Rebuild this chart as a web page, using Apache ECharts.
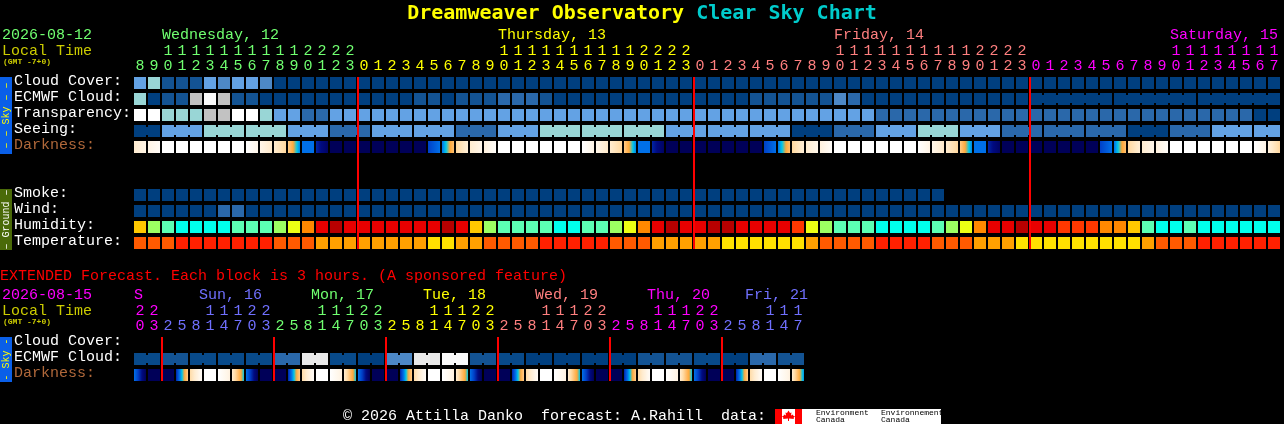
<!DOCTYPE html>
<html>
<head>
<meta charset="utf-8">
<style>html,body{margin:0;padding:0;background:#000;overflow:hidden}#c{width:1284px;height:424px}</style>
<script src="https://cdn.jsdelivr.net/npm/echarts@6/dist/echarts.min.js"></script>
</head>
<body>
<div id="c"></div>
<script>
// ---- Data ----
const mainHours = [8,9,10,11,12,13,14,15,16,17,18,19,20,21,22,23,
  0,1,2,3,4,5,6,7,8,9,10,11,12,13,14,15,16,17,18,19,20,21,22,23,
  0,1,2,3,4,5,6,7,8,9,10,11,12,13,14,15,16,17,18,19,20,21,22,23,
  0,1,2,3,4,5,6,7,8,9,10,11,12,13,14,15,16,17];
const mainDayOfCell = [0,0,0,0,0,0,0,0,0,0,0,0,0,0,0,0,
  1,1,1,1,1,1,1,1,1,1,1,1,1,1,1,1,1,1,1,1,1,1,1,1,
  2,2,2,2,2,2,2,2,2,2,2,2,2,2,2,2,2,2,2,2,2,2,2,2,
  3,3,3,3,3,3,3,3,3,3,3,3,3,3,3,3,3,3];
const mainDayNames = ['Wednesday, 12','Thursday, 13','Friday, 14','Saturday, 15'];
const mainDayLabelCells = [2,26,50,74];
const mainDayColors = ['#70ff70','#ffff00','#ff7f7f','#ff00ff'];
const mainMidnights = [16,40,64];

const mainRows = ['Cloud Cover:','ECMWF Cloud:','Transparency:','Seeing:','Darkness:','','','Smoke:','Wind:','Humidity:','Temperature:'];

const cloudCover = [4,5,1,1,1,4,3,4,4,3,
  0,0,0,0,0,0,0,0,0,0, 0,0,0,0,0,0,0,0,0,0, 0,0,0,0,0,0,0,0,0,0,
  0,0,0,0,0,0,0,0,0,0, 0,0,0,0,0,0,0,0,0,0, 0,0,0,0,0,0,0,0,0,0,
  0,0,0,0,0,0,0,0,0,0, 0,0];
const ecmwfCloud = [5,0,1,1,6,8,6,1,1,0,
  0,0,0,0,0,0,0,0,0,0, 1,1,0,1,1,1,2,2,2,1, 0,0,0,0,0,0,0,0,0,0,
  0,0,0,0,1,1,1,1,1,1, 3,2,0,0,0,0,0,0,0,0, 0,0,0,0,0,0,0,0,0,0, 0,0,0,0,0,0,0,0,0,0, 0,0];
const ecmwfSpans = [1,1,1,1,1,1,1,1,1,1,1,1,1,1,1,1,1,1,1,1,1,1,1,1,1,1,1,1,1,1,1,1,
  1,1,1,1,1,1,1,1,1,1,1,1,1,1,1,1,1,1,1,1,1,1,1,1,1,1,1,1,1,1,1,1,6,6,6];
const transparency = [9,9,5,5,5,6,6,9,9,5,
  4,4,2,2,4,4,4,4,4,4, 4,4,4,4,4,4,4,4,4,4, 4,4,4,4,4,4,4,4,4,4,
  4,4,4,4,4,4,4,4,4,4, 4,4,4,2,2,2,2,2,2,2, 2,2,2,2,2,2,2,2,2,2, 2,2,2,2,2,2,2,2,2,2, 0,0];
const seeingBlocks = [0,4,5,5,4,2,4,4,2,4,5,5,5,4,4,4,0,2,4,5,4,2,2,2,0,2,4,4];
const seeingSpans  = [2,3,3,3,3,3,3,3,3,3,3,3,3,3,3,3,3,3,3,3,3,3,3,3,3,3,3,2];
const darknessStart = [2,1.2,0,0,0,0,0,0,0,1,2,3.6,7,8.5,10,10,
  10,10,10,10,10,8,7,3.2,2,1.5,0,0,0,0,0,0,0,1,2,3.6,7,8.5,10,10,
  10,10,10,10,10,8,7,3.2,2,1.5,0,0,0,0,0,0,0,1,2,3.6,7,8.5,10,10,
  10,10,10,10,10,8,7,3.2,2,1.5,0,0,0,0,0,0,0,1.5];
const darknessEnd = [1.2,0.4,0,0,0,0,0,0,1,2.2,3.2,6.8,7,9.7,10,10,
  10,10,10,10,10,7,4,1.8,1,0.3,0,0,0,0,0,0,1.2,2.2,3.2,6.8,7,9.7,10,10,
  10,10,10,10,10,7,4,1.8,1,0.3,0,0,0,0,0,0,1.2,2.2,3.2,6.8,7,9.7,10,10,
  10,10,10,10,10,7,4,1.8,1,0.3,0,0,0,0,0,0,1.2,3.2];
const smoke = [0,0,0,0,0,0,0,0,0,0, 0,0,0,0,0,0,0,0,0,0, 0,0,0,0,0,0,0,0,0,0,
  0,0,0,0,0,0,0,0,0,0, 0,0,0,0,0,0,0,0,0,0, 0,0,0,0,0,0,0,0];
const wind = [0,0,0,0,0,0,2,2,0,0, 0,0,0,0,0,0,0,0,0,0, 0,0,0,0,0,0,0,0,0,0,
  0,0,0,0,0,0,0,0,0,0, 0,0,0,0,0,0,0,0,0,0, 0,0,0,0,0,0,0,0,0,0,
  0,0,0,0,0,0,0,0,0,0, 0,0,0,0,0,0,0,0,0,0, 0,0];
const humidity = [4,2,1,0,0,0,0,1,1,1, 2,3,5,7,8,7,7,7,7,7, 7,7,8,7,4,2,1,1,1,1,
  0,0,1,1,2,3,5,7,8,7, 7,8,8,7,7,7,7,6,3,2, 1,1,1,0,0,0,0,1,2,3,
  5,7,7,8,7,7,6,6,6,5, 5,4,1,0,0,1,0,0,0,0, 0,0];
const temperature = [1,1,1,0,0,0,0,0,0,0, 1,1,1,2,2,2,2,2,2,2, 2,3,3,2,2,1,1,1,1,0,
  0,0,0,0,1,1,1,2,2,2, 2,2,3,3,3,3,3,3,2,1, 1,1,1,0,0,0,0,1,1,1,
  2,2,2,3,3,3,3,3,3,3, 3,3,2,1,1,1,0,0,0,0, 0,0];

const extHours = [20,23,
  2,5,8,11,14,17,20,23, 2,5,8,11,14,17,20,23, 2,5,8,11,14,17,20,23,
  2,5,8,11,14,17,20,23, 2,5,8,11,14,17,20,23, 2,5,8,11,14,17];
const extDayOfCell = [0,0, 1,1,1,1,1,1,1,1, 2,2,2,2,2,2,2,2, 3,3,3,3,3,3,3,3,
  4,4,4,4,4,4,4,4, 5,5,5,5,5,5,5,5, 6,6,6,6,6,6];
const extDayNames = ['S','Sun, 16','Mon, 17','Tue, 18','Wed, 19','Thu, 20','Fri, 21'];
const extDayLabelCells = [0,5,13,21,29,37,44];
const extDayColors = ['#ff00ff','#7070ff','#70ff70','#ffff00','#ff7f7f','#ff00ff','#7070ff'];
const extMidnights = [2,10,18,26,34,42];
const extRows = ['Cloud Cover:','ECMWF Cloud:','Darkness:'];
const extEcmwfBlocks = [0.5,1,0.5,0.5,0.5,2,7,0.5,0,3,7,8,1,0.5,0,0,0,0,1,1,0.5,0,2,1];
const extEcmwfSpans  = [2,2,2,2,2,2,2,2,2,2,2,2,2,2,2,2,2,2,2,2,2,2,2,2];
const extDarkStart = [7,10,10,8.5,3,0,0,2, 7,10,10,8.5,3,0,0,2, 7,10,10,8.5,3,0,0,2,
  7,10,10,8.5,3,0,0,2, 7,10,10,8.5,3,0,0,2, 7,10,10,8.5,3,0,0,2];
const extDarkEnd = [10,10,10,3.5,0.4,0,1.4,6, 10,10,10,3.5,0.4,0,1.4,6, 10,10,10,3.5,0.4,0,1.4,6,
  10,10,10,3.5,0.4,0,1.4,6, 10,10,10,3.5,0.4,0,1.4,6, 10,10,10,3.5,0.4,0,1.4,6.6];

// ---- Styling ----
const cloudColor = {0:'#003f7f',0.5:'#084a8a',1:'#135393',2:'#2a68aa',3:'#4d88c6',4:'#63a2e4',5:'#99d6d6',6:'#c2c2c2',7:'#e9e9e9',8:'#fafafa',9:'#ffffff'};
const humidityColor = ['#00ffec','#5cffb4','#9cff62','#ecff14','#ffc800','#ff8800','#ff3800','#e80000','#b80000'];
const temperatureColor = ['#ff2000','#ff5a00','#ffa000','#ffe000'];
const darkStops = ['#ffffff','#fff6ea','#ffecd0','#ffdca8','#ffc070','#ffa838','#00c8e8','#0070e8','#0040c8','#000a80','#000058'];
const FONT = '"Liberation Mono", monospace';

function hex(c){return [1,3,5].map(i=>parseInt(c.substr(i,2),16));}
function darkAt(t){
  const i=Math.min(Math.floor(t),darkStops.length-2),f=t-i,a=hex(darkStops[i]),b=hex(darkStops[i+1]);
  return 'rgb('+a.map((v,k)=>Math.round(v+(b[k]-v)*f)).join(',')+')';
}
function darkFill(t0,t1){
  if(t0===t1) return darkAt(t0);
  const stops=[];const n=12;
  for(let k=0;k<=n;k++) stops.push({offset:k/n,color:darkAt(t0+(t1-t0)*k/n)});
  return new echarts.graphic.LinearGradient(0,0,1,0,stops);
}
function expand(blocks,spans){
  const out=[];let c=0;
  blocks.forEach((v,b)=>{for(let k=0;k<spans[b];k++){out.push([c,v,k<spans[b]-1?1:0]);c++;}});
  return out;
}
function cellSeries(name,grid,row,cells,fillOf){
  return {type:'custom',name,xAxisIndex:grid,yAxisIndex:grid,clip:false,silent:true,z:2,
    data:cells.map(c=>[c[0],row,c[1],c[2]||0,c[3]||0]),
    encode:{x:0,y:1},
    renderItem(p,api){
      const c=api.coord([api.value(0),api.value(1)]),s=api.size([1,1]);
      const w=s[0]-2,h=s[1]-4,x=c[0]-w/2,y=c[1]-h/2;
      const fill=fillOf(api.value(2),api.value(4));
      const kids=[{type:'rect',shape:{x,y,width:w,height:h},style:{fill}}];
      if(api.value(3)) kids.push({type:'rect',shape:{x:x+w,y:y+2,width:2,height:h-4},style:{fill}});
      return {type:'group',children:kids};
    }};
}
function plain(values){return values.map((v,i)=>[i,v]);}
function boundarySeries(grid,cells,lastRow){
  return {type:'custom',xAxisIndex:grid,yAxisIndex:grid,clip:false,silent:true,z:5,
    data:cells.map(c=>[c,0]),encode:{x:0,y:1},
    renderItem(p,api){
      const c=api.coord([api.value(0),0]),e=api.coord([api.value(0),lastRow]),s=api.size([1,1]);
      const x=c[0]-s[0]/2+1,top=c[1]-s[1]/2+2,bot=e[1]+s[1]/2-2;
      return {type:'rect',shape:{x:x-1,y:top,width:2,height:bot-top},style:{fill:'#ff0000'}};
    }};
}
function dayLabelSeries(grid,cells,names,colors,rise,shift){
  return {type:'custom',xAxisIndex:grid,yAxisIndex:grid,clip:false,silent:true,z:3,
    data:cells.map(c=>[c,0]),encode:{x:0,y:1},
    renderItem(p,api){
      const c=api.coord([api.value(0),0]),s=api.size([1,1]);
      const i=p.dataIndex,dx=i===0||!shift?-6:shift;
      return {type:'text',style:{x:c[0]+dx,y:c[1]-s[1]/2-rise,text:names[i],fill:colors[i],
        font:'15px '+FONT,textAlign:'left',textVerticalAlign:'middle'}};
    }};
}
function hourAxis(grid,hours,dayOf,colors){
  return {type:'category',gridIndex:grid,position:'top',data:hours.map((h,i)=>i+':'+h),
    axisLine:{show:false},axisTick:{show:false},splitLine:{show:false},
    axisLabel:{show:true,interval:0,hideOverlap:false,margin:1,fontFamily:FONT,fontSize:15,lineHeight:15,
      formatter:(v,i)=>{const h=hours[i];return (h>=10?Math.floor(h/10):' ')+'\n'+(h%10);},
      color:(v,i)=>colors[dayOf[i]]}};
}
function rowAxis(grid,rows){
  return {type:'category',gridIndex:grid,inverse:true,data:rows,
    axisLine:{show:false},axisTick:{show:false},splitLine:{show:false},
    axisLabel:{show:true,interval:0,align:'left',margin:119,fontFamily:FONT,fontSize:15,verticalAlign:'bottom',lineHeight:4,
      color:v=>v==='Darkness:'?'#b0683a':'#ffffff'}};
}
function txt(x,y,text,fill,size,extra){
  return Object.assign({type:'text',x,y,silent:true,style:{text,fill,font:(extra&&extra.weight||'')+' '+size+'px '+FONT,textVerticalAlign:'middle'}},extra&&extra.el);
}
function sideBar(y,h,color,label,labelColor){
  return [
    {type:'rect',silent:true,shape:{x:0,y,width:12,height:h},style:{fill:color}},
    {type:'text',silent:true,x:6,y:y+h/2,rotation:Math.PI/2,
      style:{text:label,fill:labelColor,font:'10px '+FONT,textAlign:'center',textVerticalAlign:'middle'}}
  ];
}
const leaf=[[788.5,410.5],[790,413],[791.5,412.5],[791,415.5],[793,414.5],[793.5,416],[795,416],[793.5,418],[794,419],[789,418.5],[789,421],[788,421],[788,418.5],[783,419],[783.5,418],[782,416],[783.5,416],[784,414.5],[786,415.5],[785.5,412.5],[787,413]];

const chart = echarts.init(document.getElementById('c'),null,{renderer:'canvas',width:1284,height:424});
chart.setOption({
  backgroundColor:'#000000',
  animation:false,
  tooltip:{show:false},
  title:{left:'center',top:3,padding:0,
    text:'{a|Dreamweaver Observatory }{b|Clear Sky Chart}',
    textStyle:{rich:{
      a:{color:'#ffff00',fontFamily:'"DejaVu Sans Mono", monospace',fontWeight:'bold',fontSize:20,lineHeight:22},
      b:{color:'#00cccc',fontFamily:'"DejaVu Sans Mono", monospace',fontWeight:'bold',fontSize:20,lineHeight:22}}}},
  grid:[
    {left:133,top:75,width:1148,height:176,containLabel:false},
    {left:133,top:335,width:672,height:48,containLabel:false}
  ],
  xAxis:[hourAxis(0,mainHours,mainDayOfCell,mainDayColors),hourAxis(1,extHours,extDayOfCell,extDayColors)],
  yAxis:[rowAxis(0,mainRows),rowAxis(1,extRows)],
  series:[
    cellSeries('Cloud Cover',0,0,plain(cloudCover),v=>cloudColor[v]),
    cellSeries('ECMWF Cloud',0,1,(()=>{let c=0;const o=[];ecmwfSpans.forEach(n=>{for(let k=0;k<n;k++){o.push([c,ecmwfCloud[c],k<n-1?1:0]);c++;}});return o;})(),v=>cloudColor[v]),
    cellSeries('Transparency',0,2,plain(transparency),v=>cloudColor[v]),
    cellSeries('Seeing',0,3,expand(seeingBlocks,seeingSpans),v=>cloudColor[v]),
    cellSeries('Darkness',0,4,darknessStart.map((s,i)=>[i,s,0,darknessEnd[i]]),(a,b)=>darkFill(a,b)),
    cellSeries('Smoke',0,7,plain(smoke),v=>cloudColor[v]),
    cellSeries('Wind',0,8,plain(wind),v=>cloudColor[v]),
    cellSeries('Humidity',0,9,plain(humidity),v=>humidityColor[v]),
    cellSeries('Temperature',0,10,plain(temperature),v=>temperatureColor[v]),
    boundarySeries(0,mainMidnights,10),
    dayLabelSeries(0,mainDayLabelCells,mainDayNames,mainDayColors,40,0),
    cellSeries('Ext ECMWF',1,1,expand(extEcmwfBlocks,extEcmwfSpans),v=>cloudColor[v]),
    cellSeries('Ext Darkness',1,2,extDarkStart.map((s,i)=>[i,s,0,extDarkEnd[i]]),(a,b)=>darkFill(a,b)),
    boundarySeries(1,extMidnights,2),
    dayLabelSeries(1,extDayLabelCells,extDayNames,extDayColors,40,-11)
  ],
  graphic:{elements:[
    txt(2,35,'2026-08-12','#70ff70',15),
    txt(2,51,'Local Time','#cccc00',15),
    txt(3,62,'(GMT -7+0)','#cccc00',8,{weight:'bold'}),
    ...sideBar(77,77,'#0a5fe8','– – Sky – –','#ffff00'),
    ...sideBar(189,61,'#4a6a08','– Ground –','#ffffff'),
    txt(0,276,'EXTENDED Forecast. Each block is 3 hours. (A sponsored feature)','#ff0000',15),
    txt(2,295,'2026-08-15','#ff00ff',15),
    txt(2,311,'Local Time','#cccc00',15),
    txt(3,322,'(GMT -7+0)','#cccc00',8,{weight:'bold'}),
    ...sideBar(337,45,'#0a5fe8','- Sky -','#ffff00'),
    txt(343,416,'© 2026 Attilla Danko  forecast: A.Rahill  data:','#ffffff',15),
    {type:'rect',silent:true,shape:{x:775,y:409,width:166,height:15},style:{fill:'#ffffff'}},
    {type:'rect',silent:true,shape:{x:775,y:409,width:7,height:15},style:{fill:'#ff0000'}},
    {type:'rect',silent:true,shape:{x:795,y:409,width:7,height:15},style:{fill:'#ff0000'}},
    {type:'polygon',silent:true,shape:{points:leaf},style:{fill:'#ff0000'}},
    txt(816,413,'Environment','#000000',8),
    txt(816,420,'Canada','#000000',8),
    txt(881,413,'Environnement','#000000',8),
    txt(881,420,'Canada','#000000',8)
  ]}
});
</script>
</body>
</html>
